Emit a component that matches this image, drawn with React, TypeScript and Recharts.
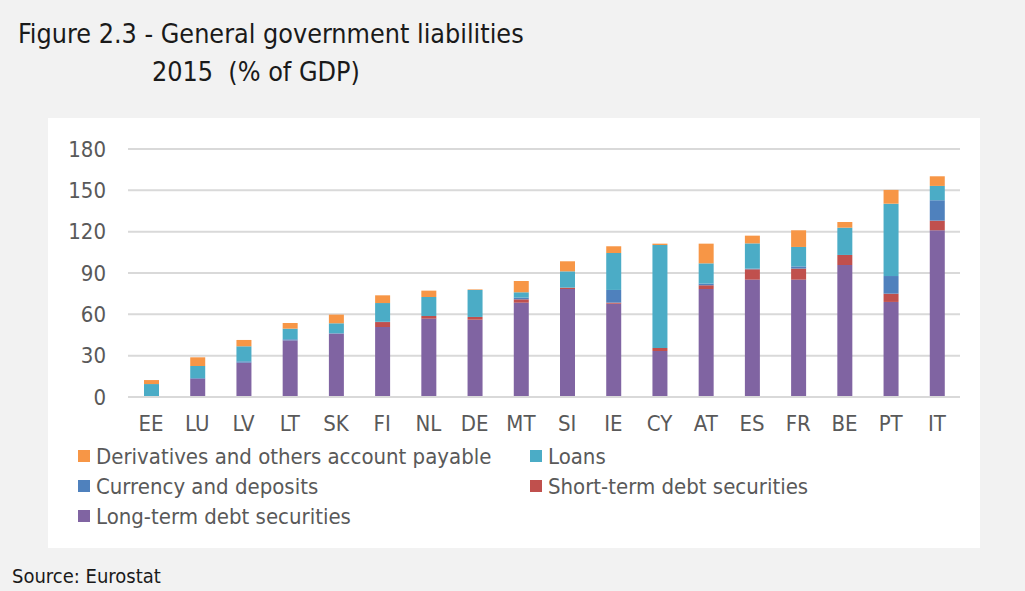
import React from 'react';
import { BarChart, Bar, XAxis, YAxis, CartesianGrid, Legend } from 'recharts';

const countries = ['EE', 'LU', 'LV', 'LT', 'SK', 'FI', 'NL', 'DE', 'MT', 'SI', 'IE', 'CY', 'AT', 'ES', 'FR', 'BE', 'PT', 'IT'];
const longTerm = [0.5, 13.3, 24.9, 41.1, 46, 50.8, 56.9, 56.1, 68.5, 78.4, 67.7, 33.4, 78.4, 85.2, 85.2, 95.8, 69, 121];
const shortTerm = [0, 0, 0, 0, 0, 3.6, 1.9, 2, 2.4, 1, 0.8, 2.2, 2.7, 7.5, 8, 7.3, 6, 7];
const currency = [0.2, 0.5, 1, 0.8, 0.3, 0.2, 0, 0, 1.2, 0, 9.2, 0, 1.2, 0.5, 1.6, 0, 12.8, 14.8];
const loans = [8.7, 8.7, 10.9, 7.7, 7.2, 13.6, 13.8, 19.6, 3.9, 11.8, 26.8, 74.7, 14.7, 18.3, 14.1, 19.8, 52.5, 10.4];
const derivatives = [2.9, 6.3, 4.6, 4.1, 6.3, 5.6, 4.6, 0.4, 8.2, 7.3, 4.9, 1, 14.3, 5.6, 12.1, 4.1, 10, 7];
const yTicks = [0, 30, 60, 90, 120, 150, 180];

const FONT = '"Liberation Sans Narrow", "DejaVu Sans Condensed", sans-serif';

const data = countries.map((c, i) => ({
  country: c,
  longTerm: longTerm[i],
  shortTerm: shortTerm[i],
  currency: currency[i],
  loans: loans[i],
  derivatives: derivatives[i],
}));

// legend order as in the figure (two columns)
const legendItems = [
  { label: 'Derivatives and others account payable', color: '#F79646' },
  { label: 'Loans', color: '#4BACC6' },
  { label: 'Currency and deposits', color: '#4F81BD' },
  { label: 'Short-term debt securities', color: '#C0504D' },
  { label: 'Long-term debt securities', color: '#8064A2' },
];

const renderLegend = () => (
  <div
    style={{
      height: 100,
      paddingTop: 4,
      boxSizing: 'border-box',
      display: 'grid',
      gridTemplateColumns: '452px 400px',
      gridAutoRows: '30px',
      paddingLeft: 30,
      fontFamily: FONT,
      fontSize: 22,
      color: '#595959',
    }}
  >
    {legendItems.map((item) => (
      <div key={item.label} style={{ display: 'flex', alignItems: 'center', whiteSpace: 'nowrap' }}>
        <span style={{ width: 12, height: 12, background: item.color, marginRight: 6, display: 'inline-block' }} />
        {item.label}
      </div>
    ))}
  </div>
);

export default function App() {
  return (
    <div
      style={{
        position: 'absolute',
        left: 0,
        top: 0,
        width: 1025,
        height: 591,
        background: '#f2f2f2',
        fontFamily: FONT,
        overflow: 'hidden',
      }}
    >
      <div style={{ position: 'absolute', left: 18, top: 15, fontSize: 26.7, color: '#1a1a1a', lineHeight: '38px' }}>
        Figure 2.3 - General government liabilities
        <div style={{ paddingLeft: 134 }}>2015&nbsp; (% of GDP)</div>
      </div>
      <div style={{ position: 'absolute', left: 48, top: 118, width: 932, height: 430, background: '#ffffff' }}>
        <BarChart
          width={932}
          height={430}
          data={data}
          margin={{ top: 31, right: 20, left: 0, bottom: 11 }}
          barSize={15}
        >
          <CartesianGrid vertical={false} stroke="#d9d9d9" strokeWidth={2} />
          <XAxis
            dataKey="country"
            height={40}
            tickLine={false}
            axisLine={{ stroke: '#d9d9d9', strokeWidth: 2 }}
            tickSize={0}
            tickMargin={18}
            interval={0}
            tick={{ fill: '#595959', fontSize: 22, fontFamily: FONT }}
          />
          <YAxis
            width={80}
            domain={[0, 180]}
            ticks={yTicks}
            axisLine={false}
            tickLine={false}
            tickSize={0}
            tickMargin={22}
            tick={{ fill: '#595959', fontSize: 22, fontFamily: FONT }}
          />
          <Legend verticalAlign="bottom" align="left" content={renderLegend} />
          <Bar dataKey="longTerm" stackId="a" fill="#8064A2" isAnimationActive={false} />
          <Bar dataKey="shortTerm" stackId="a" fill="#C0504D" isAnimationActive={false} />
          <Bar dataKey="currency" stackId="a" fill="#4F81BD" isAnimationActive={false} />
          <Bar dataKey="loans" stackId="a" fill="#4BACC6" isAnimationActive={false} />
          <Bar dataKey="derivatives" stackId="a" fill="#F79646" isAnimationActive={false} />
        </BarChart>
      </div>
      <div style={{ position: 'absolute', left: 12, top: 564, fontSize: 20, color: '#1a1a1a' }}>Source: Eurostat</div>
    </div>
  );
}
